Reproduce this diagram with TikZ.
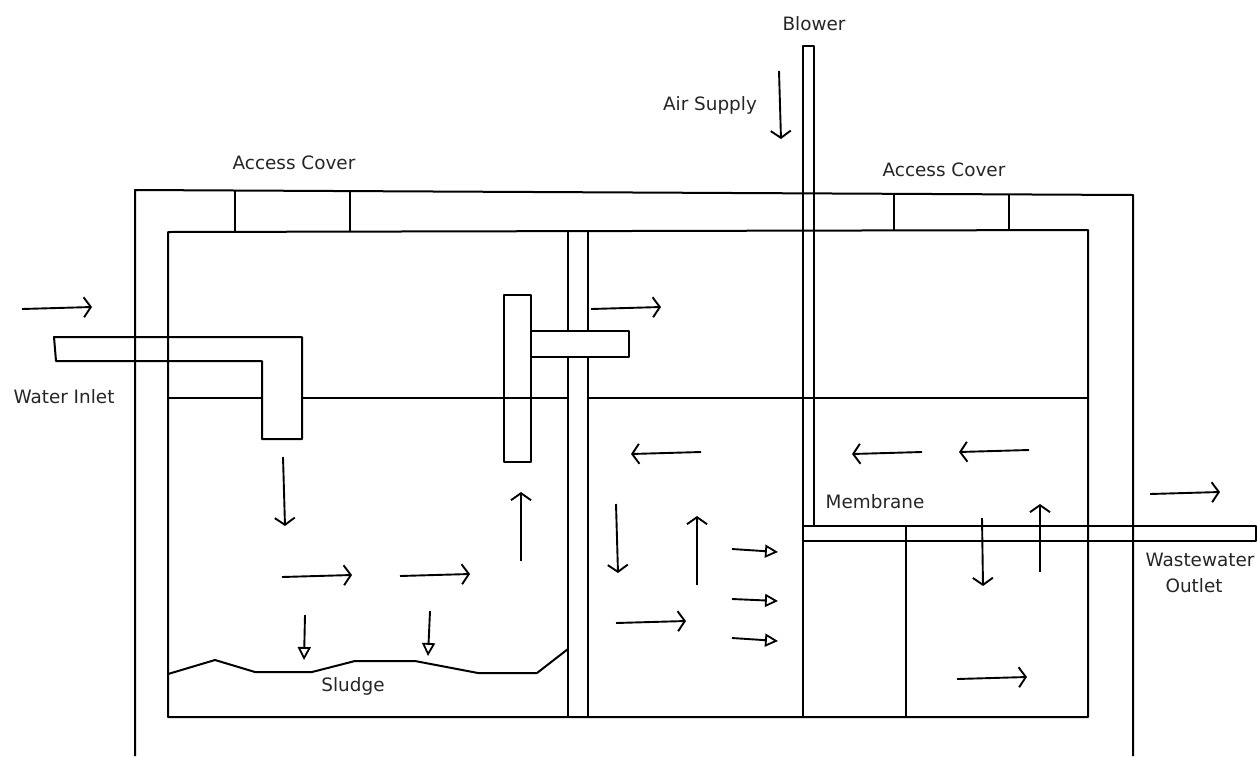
\documentclass[tikz,border=0pt]{standalone}
\usepackage{fontspec}
\setmainfont{DejaVu Sans}
\usetikzlibrary{arrows.meta}
\tikzset{
  x=1pt,y=-1pt,
  wall/.style={draw=black,line width=2pt,line join=round},
  flow/.style={draw=black,line width=1.9pt,-{Straight Barb[length=7pt,width=20pt,line width=1.9pt]}},
  hollow/.style={draw=black,line width=1.9pt,-{Triangle[open,length=13pt,width=13pt,line width=1.8pt]}},
  lbl/.style={font=\fontsize{18.4}{26}\selectfont,text=black!85,inner sep=0pt}
}
\begin{document}
\begin{tikzpicture}
\useasboundingbox (0,0) rectangle (1257,756);
\fill[white] (0,0) rectangle (1257,756);
% outer tank
\draw[wall] (135,756) -- (135,190) -- (1133,195) -- (1133,756);
% inner chamber
\draw[wall] (168,232) -- (1088,230) -- (1088,717) -- (168,717) -- cycle;
% partition, broken by the transfer pipe
\draw[wall] (568,232) -- (568,331);
\draw[wall] (568,357) -- (568,717);
\draw[wall] (588,232) -- (588,331);
\draw[wall] (588,357) -- (588,717);
% access covers
\draw[wall] (235,191) -- (235,232);
\draw[wall] (350,192) -- (350,232);
\draw[wall] (894,194) -- (894,230);
\draw[wall] (1009,195) -- (1009,230);
% water level
\draw[wall] (168,398) -- (262,398);
\draw[wall] (302,398) -- (568,398);
\draw[wall] (588,398) -- (1088,398);
% inlet pipe
\draw[wall] (54,337) -- (302,337) -- (302,439) -- (262,439) -- (262,361) -- (56,361) -- cycle;
% baffle with outlet
\draw[wall] (504,295) rectangle (531,462);
\draw[wall] (531,331) -- (629,331) -- (629,357) -- (531,357);
% blower pipe
\draw[wall] (803,717) -- (803,46) -- (814,46) -- (814,526);
% membrane
\draw[wall] (803,526) -- (1256,526) -- (1256,541) -- (803,541);
\draw[wall] (906,526) -- (906,717);
% sludge
\draw[wall] (168,674) -- (215,660) -- (255,672) -- (312,672) -- (355,661) -- (415,661) -- (478,673) -- (537,673) -- (568,649);
% flow arrows
\draw[flow] (22,309) -- (92,307);
\draw[flow] (591,309) -- (661,307);
\draw[flow] (282,577) -- (352,575);
\draw[flow] (400,576) -- (470,574);
\draw[flow] (616,623) -- (686,621);
\draw[flow] (957,679) -- (1027,677);
\draw[flow] (1150,494) -- (1220,492);
\draw[flow] (701,452) -- (631,454);
\draw[flow] (922,452) -- (852,454);
\draw[flow] (1029,450) -- (959,452);
\draw[flow] (283,457) -- (285,526);
\draw[flow] (779,71) -- (781,139);
\draw[flow] (616,504) -- (618,573);
\draw[flow] (982,518) -- (983,586);
\draw[flow] (521,561) -- (521,492);
\draw[flow] (697,585) -- (697,516);
\draw[flow] (1040,572) -- (1040,504);
\draw[hollow] (732,549) -- (778,552);
\draw[hollow] (732,599) -- (778,601);
\draw[hollow] (732,638) -- (778,641);
\draw[hollow] (305,615) -- (304,660);
\draw[hollow] (430,611) -- (428,656);
% labels
\node[lbl] (blower) at (814,24) {Blower};
\node[lbl] (air) at (710,105) {Air Supply};
\node[lbl] (cover1) at (294,163) {Access Cover};
\node[lbl] (cover2) at (944,170) {Access Cover};
\node[lbl] (inlet) at (64,397) {Water Inlet};
\node[lbl] (memb) at (875,502) {Membrane};
\node[lbl,align=left] (outlet) at (1200,573) {Wastewater\\\hspace*{20pt}Outlet};
\node[lbl] (sludge) at (353,686) {Sludge};
\end{tikzpicture}
\end{document}
